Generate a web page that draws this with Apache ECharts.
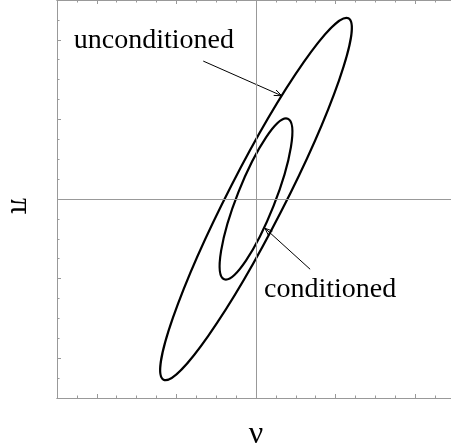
<!DOCTYPE html>
<html>
<head>
<meta charset="utf-8">
<script src="https://cdn.jsdelivr.net/npm/echarts@6/dist/echarts.min.js"></script>
<style>
html, body { margin: 0; padding: 0; background: #fff; }
#chart { width: 451px; height: 446px; }
</style>
</head>
<body>
<div id="chart"></div>
<script>
// ellipses: centre, semi-axes and tilt (data units, degrees)
var ellipseNames = ['unconditioned', 'conditioned'];
var ellipseCenters = [[0, 0], [0, 0]];
var semiMajor = [10.2, 4.34];
var semiMinor = [1.41, 0.95];
var tiltDeg = [62.9, 68.4];

// annotations
var labelText = ['unconditioned', 'conditioned'];
var labelPos = [[-9.16, 7.94], [0.40, -4.56]];
var arrowFrom = [[-2.65, 6.93], [2.72, -3.53]];
var arrowTo = [[1.29, 5.19], [0.45, -1.47]];

var axisMin = -10, axisMax = 10;
var majorTicks = [-8, -4, 0, 4, 8];

var grey = '#999';
var serif = '"Liberation Serif", serif';

function frameAxis(pos, major, extra) {
    var ax = {
        type: 'value',
        position: pos,
        min: axisMin,
        max: axisMax,
        interval: 1,
        axisLine: { show: true, onZero: false, lineStyle: { color: grey, width: 1 } },
        axisTick: { show: true, inside: true, length: major ? 4 : 2.5, lineStyle: { color: grey } },
        axisLabel: { show: false },
        splitLine: { show: false }
    };
    if (major) ax.axisTick.customValues = majorTicks;
    if (extra) for (var k in extra) ax[k] = extra[k];
    return ax;
}

var chart = echarts.init(document.getElementById('chart'));

var option = {
    animation: false,
    backgroundColor: '#fff',
    grid: { left: 57, top: 0, width: 398, height: 398, containLabel: false, outerBoundsMode: 'none' },
    xAxis: [
        frameAxis('bottom', false, {
            name: 'ν', nameLocation: 'middle', nameGap: 21,
            nameTextStyle: { fontFamily: serif, fontSize: 32, color: '#000' }
        }),
        frameAxis('bottom', true),
        frameAxis('top', false),
        frameAxis('top', true)
    ],
    yAxis: [
        frameAxis('left', false, {
            name: 'π', nameLocation: 'middle', nameGap: 22, nameRotate: -90,
            nameTextStyle: { fontFamily: serif, fontSize: 32, color: '#000', padding: [0, 0, 0, 14] }
        }),
        frameAxis('left', true),
        frameAxis('right', false),
        frameAxis('right', true)
    ],
    series: [
        {
            type: 'custom',
            name: 'ellipses',
            coordinateSystem: 'cartesian2d',
            data: ellipseNames.map(function (n, i) {
                return [ellipseCenters[i][0], ellipseCenters[i][1], semiMajor[i], semiMinor[i], tiltDeg[i]];
            }),
            renderItem: function (params, api) {
                var c = api.coord([api.value(0), api.value(1)]);
                var u = api.size([1, 1]);
                return {
                    type: 'ellipse',
                    x: c[0],
                    y: c[1],
                    rotation: api.value(4) * Math.PI / 180,
                    shape: { cx: 0, cy: 0, rx: api.value(2) * u[0], ry: api.value(3) * u[1] },
                    style: { fill: 'none', stroke: '#000', lineWidth: 2.2 }
                };
            },
            markLine: {
                silent: true,
                symbol: ['none', 'none'],
                label: { show: false },
                lineStyle: { color: grey, type: 'solid', width: 1 },
                data: [{ xAxis: 0 }, { yAxis: 0 }]
            },
            z: 3
        },
        {
            type: 'custom',
            name: 'arrows',
            coordinateSystem: 'cartesian2d',
            data: arrowFrom.map(function (p, i) {
                return [p[0], p[1], arrowTo[i][0], arrowTo[i][1]];
            }),
            renderItem: function (params, api) {
                var p1 = api.coord([api.value(0), api.value(1)]);
                var p2 = api.coord([api.value(2), api.value(3)]);
                var ang = Math.atan2(p2[1] - p1[1], p2[0] - p1[0]);
                var h = 8, w = 0.38;
                var a1 = [p2[0] - h * Math.cos(ang - w), p2[1] - h * Math.sin(ang - w)];
                var a2 = [p2[0] - h * Math.cos(ang + w), p2[1] - h * Math.sin(ang + w)];
                return {
                    type: 'group',
                    children: [
                        { type: 'line', shape: { x1: p1[0], y1: p1[1], x2: p2[0], y2: p2[1] },
                          style: { stroke: '#000', lineWidth: 1 } },
                        { type: 'polyline', shape: { points: [a1, p2, a2] },
                          style: { stroke: '#000', fill: 'none', lineWidth: 1 } }
                    ]
                };
            },
            z: 4
        },
        {
            type: 'custom',
            name: 'labels',
            coordinateSystem: 'cartesian2d',
            data: labelPos.map(function (p) { return [p[0], p[1]]; }),
            renderItem: function (params, api) {
                var p = api.coord([api.value(0), api.value(1)]);
                return {
                    type: 'text',
                    x: p[0],
                    y: p[1],
                    style: {
                        text: labelText[params.dataIndex],
                        fill: '#000',
                        fontFamily: serif,
                        fontSize: 28,
                        align: 'left',
                        verticalAlign: 'middle'
                    }
                };
            },
            z: 5
        }
    ]
};

chart.setOption(option);
</script>
</body>
</html>
